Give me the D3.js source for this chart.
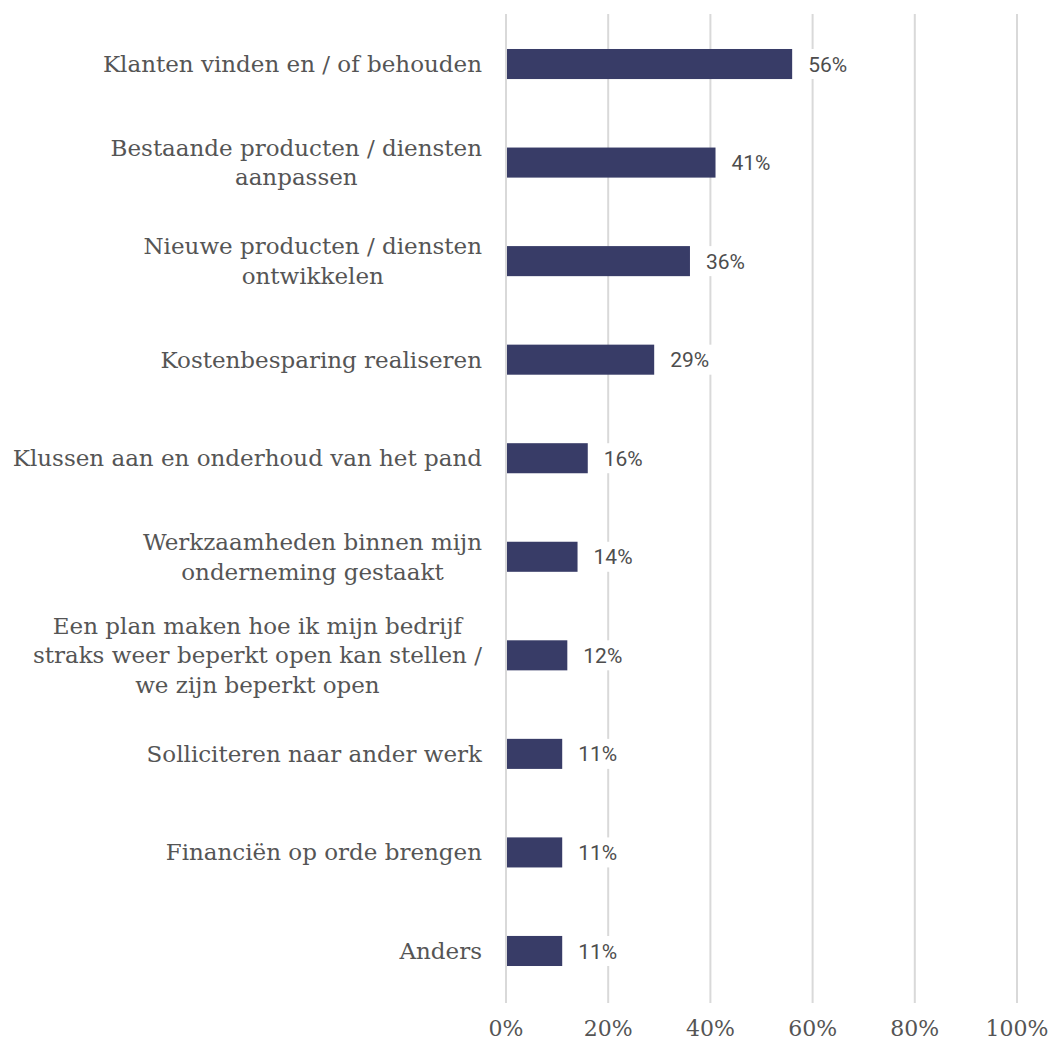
<!DOCTYPE html>
<html>
<head>
<meta charset="utf-8">
<script src="https://cdn.jsdelivr.net/npm/d3@7"></script>
<style>
  html, body { margin: 0; padding: 0; background: #fff; }
  svg { display: block; }
</style>
</head>
<body>
<svg id="chart" width="1052" height="1041"></svg>
<script>
// Activities undertaken, share of respondents
const categories = [
  ["Klanten vinden en / of behouden"],
  ["Bestaande producten / diensten", "aanpassen"],
  ["Nieuwe producten / diensten", "ontwikkelen"],
  ["Kostenbesparing realiseren"],
  ["Klussen aan en onderhoud van het pand"],
  ["Werkzaamheden binnen mijn", "onderneming gestaakt"],
  ["Een plan maken hoe ik mijn bedrijf", "straks weer beperkt open kan stellen /", "we zijn beperkt open"],
  ["Solliciteren naar ander werk"],
  ["Financiën op orde brengen"],
  ["Anders"]
];
const values = [56, 41, 36, 29, 16, 14, 12, 11, 11, 11];
const tickValues = [0, 20, 40, 60, 80, 100];

const svg = d3.select("#chart");
const plotLeft = 506, plotRight = 1017, plotTop = 14.5, plotBottom = 1000.5;

const x = d3.scaleLinear().domain([0, 100]).range([plotLeft, plotRight]);
const y = d3.scaleBand().domain(d3.range(categories.length)).range([plotTop, plotBottom]).paddingInner(0.695).paddingOuter(0.35);

// vertical gridlines
svg.append("g").selectAll("line").data(tickValues).join("line")
  .attr("x1", d => x(d)).attr("x2", d => x(d))
  .attr("y1", 14).attr("y2", 1003)
  .attr("stroke", "#d9d9d9").attr("stroke-width", 2);

// bars
svg.append("g").selectAll("rect").data(values).join("rect")
  .attr("x", x(0) + 1)
  .attr("y", (d, i) => y(i))
  .attr("width", d => x(d) - x(0) - 1)
  .attr("height", y.bandwidth())
  .attr("fill", "#383c67");

// value labels with a white backing
const vl = svg.append("g").selectAll("g").data(values).join("g")
  .attr("transform", (d, i) => `translate(${x(d) + 16},${y(i) + y.bandwidth() / 2})`);
vl.append("rect").attr("class", "bg").attr("fill", "#fff");
vl.append("text")
  .attr("dy", "0.36em")
  .attr("font-family", "Roboto, sans-serif")
  .attr("font-size", 21)
  .attr("fill", "#4d4d4d")
  .text(d => d + "%");
vl.each(function () {
  const g = d3.select(this);
  const w = g.select("text").node().getComputedTextLength();
  g.select("rect").attr("x", -4).attr("y", -15).attr("width", w + 8).attr("height", 30);
});

// category labels: block right-aligned, lines centred within the block
const lineH = 29.5;
const cl = svg.append("g").selectAll("g").data(categories).join("g");
cl.each(function (lines, i) {
  const g = d3.select(this);
  const texts = g.selectAll("text").data(lines).join("text")
    .attr("font-family", "'DejaVu Serif', serif")
    .attr("font-size", 23)
    .attr("fill", "#555")
    .attr("text-anchor", "middle")
    .text(d => d);
  const maxW = d3.max(texts.nodes(), n => n.getComputedTextLength());
  const cx = 482 - maxW / 2;
  const cy = y(i) + y.bandwidth() / 2;
  const y0 = cy - (lines.length - 1) * lineH / 2;
  texts.attr("x", cx).attr("y", (d, j) => y0 + j * lineH).attr("dy", "0.35em");
});

// x axis tick labels
svg.append("g").selectAll("text").data(tickValues).join("text")
  .attr("x", d => x(d))
  .attr("y", 1036)
  .attr("text-anchor", "middle")
  .attr("font-family", "'DejaVu Serif', serif")
  .attr("font-size", 22)
  .attr("fill", "#555")
  .text(d => d + "%");
</script>
</body>
</html>
